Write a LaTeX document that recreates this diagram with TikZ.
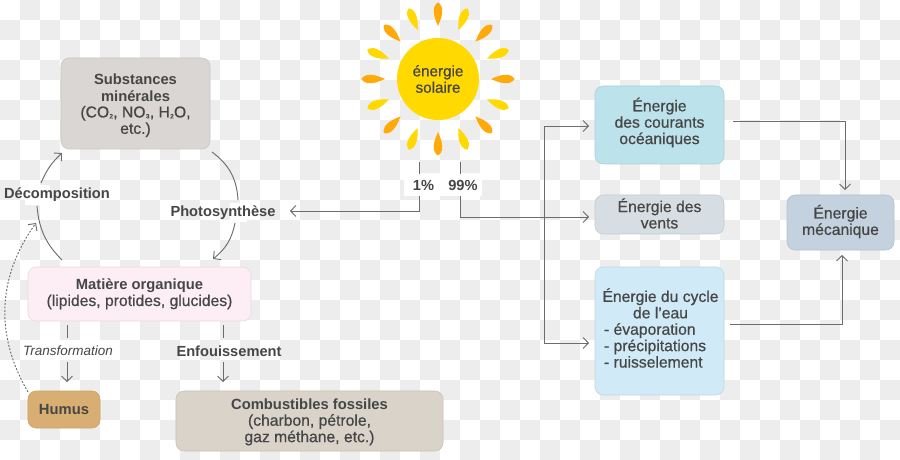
\documentclass[tikz,border=0pt]{standalone}
\usepackage{fontspec}
\setmainfont{Liberation Sans}
\newfontfamily\medf[FakeBold=0.6]{Liberation Sans}
\newcommand{\tit}{\rmfamily\bfseries\fontsize{12.6}{14}\selectfont}
\newcommand{\subs}[1]{{\fontsize{9}{14}\selectfont #1}}
\usepackage{xcolor}
\usepackage{tikz}
\usetikzlibrary{arrows.meta}
\definecolor{inkc}{HTML}{464646}
\definecolor{linec}{HTML}{6C6C6C}
\definecolor{checkc}{HTML}{EDEDED}
\definecolor{sunc}{HTML}{FFD900}
\definecolor{rayc}{HTML}{FFA90A}
\definecolor{minc}{HTML}{D9D6D4}
\definecolor{orgc}{HTML}{FCEEF4}
\definecolor{humc}{HTML}{D9AE72}
\definecolor{fosc}{HTML}{D9D3C9}
\definecolor{courc}{HTML}{BCE2EB}
\definecolor{ventc}{HTML}{D6DEE3}
\definecolor{cyclc}{HTML}{D0EAF7}
\definecolor{mecc}{HTML}{C3D2DE}
\tikzset{
  box/.style={draw=#1!92!black,line width=0.5pt,fill=#1,rounded corners=7pt,inner sep=0pt},
  txt/.style={align=center,inner sep=0pt,text=inkc,font=\fontsize{13.4}{14}\selectfont\medf},
  lab/.style={text=inkc,inner sep=0pt,font=\fontsize{12.5}{14}\selectfont\bfseries},
  ar/.style={-{Straight Barb[length=1.6mm,width=3.3mm]},line width=0.8pt,linec},
  ln/.style={line width=0.8pt,linec},
  ray/.style={fill=#1}
}
\begin{document}
\begin{tikzpicture}[x=0.03cm,y=-0.03cm]
\useasboundingbox (0,0) rectangle (900,460);
\fill[white] (0,0) rectangle (900,460);
\foreach \cx in {0,...,44}
  \foreach \cy in {0,...,22} {
    \pgfmathtruncatemacro{\odd}{mod(\cx+\cy,2)}
    \ifnum\odd=1 \fill[checkc] (20*\cx,20*\cy) rectangle (20*\cx+20,20*\cy+20); \fi
  }
% sun
\foreach \a/\c in {0/rayc,45/rayc,90/rayc,135/rayc,180/rayc,225/rayc,270/rayc,315/rayc,
  22.5/sunc,67.5/sunc,112.5/sunc,157.5/sunc,202.5/sunc,247.5/sunc,292.5/sunc,337.5/sunc}
  \fill[ray=\c,shift={(438,79)},rotate=\a] (53,0) .. controls (60,-3) and (65,-5) .. (71,-4)
    .. controls (75,-2.5) and (76,-1) .. (76.5,0) .. controls (76,1) and (75,2.5) .. (71,4)
    .. controls (65,5) and (60,3) .. (53,0) -- cycle;
\node[circle,fill=sunc,minimum size=2.46cm,inner sep=0pt,txt,
  font=\fontsize{13}{14}\selectfont\medf] (sun) at (438,79) {énergie\\solaire};
% white patches behind the labels
\fill[white] (25,185) rectangle (50,205);
\fill[white] (230,203) rectangle (247,222);
\fill[white] (20,340) rectangle (120,360);
% boxes
\node[box=minc,minimum width=4.47cm,minimum height=2.73cm] (mineral) at (135.5,103.5) {};
\node[box=orgc,minimum width=6.69cm,minimum height=1.62cm] (matiere) at (139.5,294) {};
\node[box=humc,minimum width=2.16cm,minimum height=1.11cm] (humus) at (64,409.5) {};
\node[box=fosc,minimum width=8.01cm,minimum height=1.8cm] (fossile) at (309.5,421) {};
\node[box=courc,minimum width=3.87cm,minimum height=2.34cm] (courant) at (659.5,125) {};
\node[box=ventc,minimum width=3.87cm,minimum height=1.17cm] (vent) at (659.5,214.5) {};
\node[box=cyclc,minimum width=3.87cm,minimum height=3.84cm] (cycle) at (659.5,331) {};
\node[box=mecc,minimum width=3.21cm,minimum height=1.65cm] (meca) at (840.5,222.5) {};
% box texts
\node[txt] (mineraltxt) at (135.5,105.5)
  {\tit Substances\\\tit minérales\\(CO\subs{₂}, NO\subs{₃}, H\subs{₂}O,\\etc.)};
\node[txt] (matieretxt) at (139.5,294) {\tit Matière organique\\(lipides, protides, glucides)};
\node[txt] (humustxt) at (64,409) {\tit Humus};
\node[txt] (fossiletxt) at (309.5,422)
  {\tit Combustibles fossiles\\(charbon, pétrole,\\gaz méthane, etc.)};
\node[txt] (couranttxt) at (659.5,122.5) {Énergie\\des courants\\océaniques};
\node[txt] (venttxt) at (659.5,213.5) {Énergie des\\vents};
\node[txt,align=left] (cycletxt) at (660.5,328)
  {\makebox[3.39cm]{Énergie du cycle}\\\makebox[3.39cm]{de l’eau}\\- évaporation\\- précipitations\\- ruisselement};
\node[txt] (mecatxt) at (840.5,221.5) {Énergie\\mécanique};
% labels
\node[lab] (decomp) at (57,194.5) {Décomposition};
\node[lab] (photo) at (223,212.5) {Photosynthèse};
\node[text=inkc,inner sep=0pt,font=\fontsize{11.5}{14}\selectfont\itshape] (transf) at (68,351) {Transformation};
\node[lab] (enfou) at (229,351) {Enfouissement};
\node[lab,fill=white,minimum width=1.17cm,minimum height=0.69cm] (pone) at (423.5,185) {1\%};
\node[lab,fill=white,minimum width=1.17cm,minimum height=0.69cm,anchor=west] (pnine) at (pone.east) {99\%};
% free ends of the connectors
\coordinate (A) at (419,162); \coordinate (B) at (419,174); \coordinate (C) at (419,196);
\coordinate (D) at (419,211); \coordinate (E) at (290,211);
\coordinate (F) at (460,162); \coordinate (G) at (460,174); \coordinate (H) at (460,196);
\coordinate (I) at (460,217); \coordinate (J) at (589,217);
\coordinate (K) at (544,217); \coordinate (L) at (544,126); \coordinate (M) at (589,126);
\coordinate (N) at (544,343); \coordinate (O) at (589,343);
\coordinate (P) at (733,121); \coordinate (Q) at (845,121); \coordinate (R) at (845,190);
\coordinate (S) at (730,324); \coordinate (T) at (842,324); \coordinate (U) at (842,255);
% solar branches
\draw[ln] (A)--(B) (F)--(G);
\draw[ar] (C)--(D)--(E);
\draw[ar] (H)--(I)--(J);
\draw[ar] (K)--(L)--(M);
\draw[ar] (K)--(N)--(O);
\draw[ar] (P)--(Q)--(R);
\draw[ar] (S)--(T)--(U);
% cycle of matter
\coordinate (a1) at (212,152); \coordinate (a2) at (238,200);
\coordinate (a3) at (235,223); \coordinate (a4) at (213,259);
\coordinate (b1) at (62,260); \coordinate (b2) at (37,206);
\coordinate (b3) at (41,183); \coordinate (b4) at (62,153);
\draw[ln] (a1) to[bend left=25] (a2);
\draw[ar] (a3) to[bend left=20] (a4);
\draw[ln] (b1) to[bend left=20] (b2);
\draw[ar] (b3) to[bend left=12] (b4);
% humus back to decomposition
\coordinate (h1) at (28,392); \coordinate (h2) at (36,223);
\draw[ar,dash pattern=on 1.6pt off 1.4pt] (h1) to[bend left=33] (h2);
% downward arrows
\coordinate (t1) at (67,325); \coordinate (t2) at (67,338);
\coordinate (t3) at (67,362); \coordinate (t4) at (67,382);
\coordinate (e1) at (223,325); \coordinate (e2) at (223,338);
\coordinate (e3) at (223,362); \coordinate (e4) at (223,382);
\draw[ln] (t1)--(t2) (e1)--(e2);
\draw[ar] (t3)--(t4);
\draw[ar] (e3)--(e4);
\end{tikzpicture}
\end{document}
